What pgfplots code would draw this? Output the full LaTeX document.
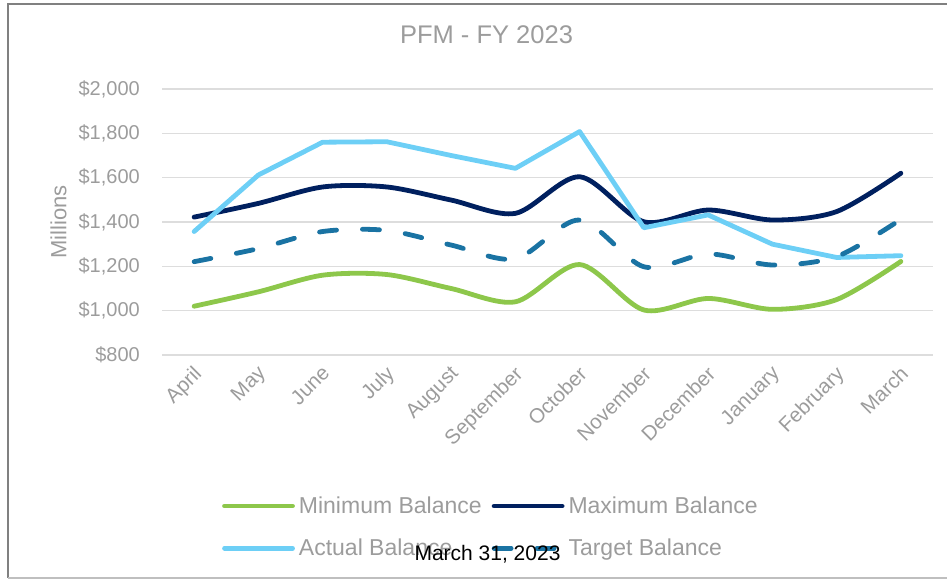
\documentclass[border=0pt]{standalone}
\usepackage{fontspec}
\setmainfont{Liberation Sans}
\usepackage{pgfplots}
\pgfplotsset{compat=1.18}
\definecolor{cmin}{HTML}{8DC74B}
\definecolor{cmax}{HTML}{00205F}
\definecolor{cact}{HTML}{6DCFF6}
\definecolor{ctar}{HTML}{1A73A3}
\definecolor{textgray}{HTML}{9C9C9C}
\definecolor{gridgray}{HTML}{DDDDDD}
\definecolor{framegray}{HTML}{808080}
\definecolor{framelight}{HTML}{BFBFBF}
\begin{document}
\begin{tikzpicture}[x=1pt,y=1pt]
\begin{axis}[
  at={(162pt,225pt)}, anchor=south west,
  scale only axis, width=771pt, height=266pt,
  xmin=-0.5, xmax=11.5, ymin=800, ymax=2000,
  xtick={0,1,2,3,4,5,6,7,8,9,10,11},
  xticklabels={April,May,June,July,August,September,October,November,December,January,February,March},
  ytick={800,1000,1200,1400,1600,1800,2000},
  yticklabels={{\$800},{\$1,000},{\$1,200},{\$1,400},{\$1,600},{\$1,800},{\$2,000}},
  /pgf/number format/assume math mode=true,
  ymajorgrids, grid style={color=gridgray, line width=1.6pt},
  axis line style={draw=none}, major tick length=0pt,
  tick label style={font=\fontsize{20}{24}\selectfont, text=textgray},
  xticklabel style={font=\fontsize{20.5}{24}\selectfont, xshift=-2pt, yshift=-8pt, rotate=45, anchor=north east, inner sep=1pt},
  yticklabel style={anchor=east, inner sep=0pt, xshift=-22pt},
  title={PFM - FY 2023},
  title style={at={(axis description cs:0.4209,1.1466)}, anchor=base, font=\fontsize{25.5}{30}\selectfont, text=textgray},
  ylabel={Millions},
  ylabel style={at={(axis description cs:-0.1342,0.5)}, anchor=center, font=\fontsize{22}{26}\selectfont, text=textgray},
  legend columns=2,
  legend cell align=left,
  legend image code/.code={\draw[#1, line cap=round] (0pt,0pt) -- (68pt,0pt);},
  legend style={at={(axis description cs:0.0780,-0.530)}, anchor=north west,
    draw=none, fill=none, inner sep=0pt, outer sep=0pt,
    font=\fontsize{23}{27}\selectfont, text=textgray,
    nodes={inner sep=1pt},
    row sep=22pt,
    /tikz/every odd column/.append style={column sep=3pt},
    /tikz/every even column/.append style={column sep=9pt}},
  every axis plot/.append style={line width=4.8pt, line cap=round, line join=round},
]
\addplot[cmin, smooth, tension=0.5] coordinates {
(0,1020) (1,1085) (2,1160) (3,1163) (4,1100) (5,1040) (6,1208) (7,1003) (8,1055) (9,1006) (10,1050) (11,1222)};
\addlegendentry{Minimum Balance}
\addplot[cmax, smooth, tension=0.5] coordinates {
(0,1422) (1,1484) (2,1558) (3,1558) (4,1499) (5,1439) (6,1604) (7,1401) (8,1454) (9,1409) (10,1447) (11,1620)};
\addlegendentry{Maximum Balance}
\addplot[cact] coordinates {
(0,1357) (1,1612) (2,1760) (3,1762) (4,1700) (5,1642) (6,1808) (7,1374) (8,1432) (9,1300) (10,1240) (11,1248)};
\addlegendentry{Actual Balance}
\addplot[ctar, smooth, tension=0.5, dash pattern=on 17pt off 26pt] coordinates {
(0,1221) (1,1280) (2,1357) (3,1362) (4,1296) (5,1234) (6,1409) (7,1198) (8,1256) (9,1206) (10,1244) (11,1412)};
\addlegendentry{Target Balance}
\end{axis}
\draw[color=framegray, line width=2pt] (8.3,2) -- (8.3,576);
\draw[color=framegray, line width=2.2pt] (7.3,576) -- (947,576);
\draw[color=framelight, line width=1.5pt] (8.3,2) -- (947,2);
\node[anchor=base, font=\fontsize{21}{25}\selectfont, text=black] at (487.5,19) {March 31, 2023};
\pgfresetboundingbox
\path (0,0) rectangle (947,580);
\end{tikzpicture}
\end{document}
